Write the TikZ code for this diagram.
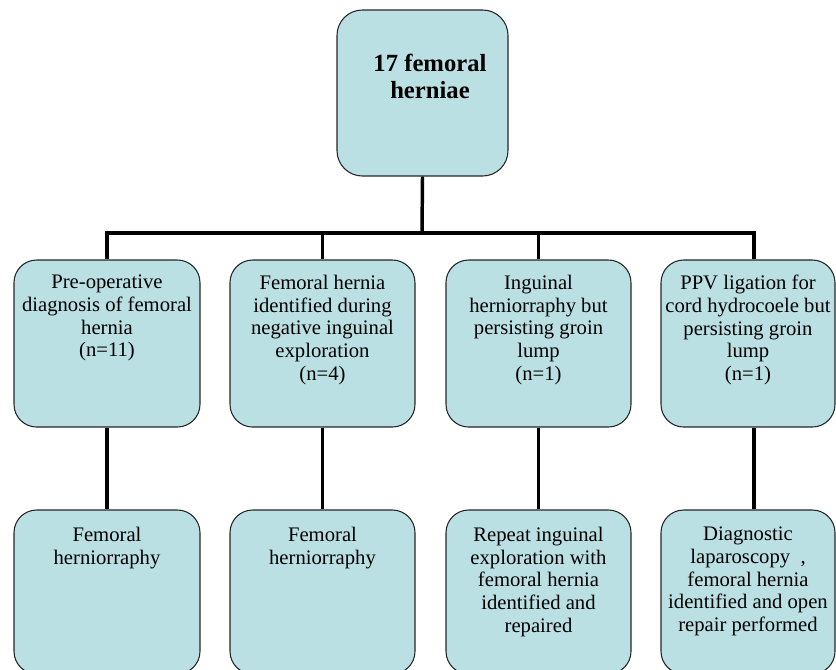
\documentclass[tikz,border=0pt]{standalone}
\usepackage{fontspec}
\setmainfont{Liberation Serif}
\begin{document}
\begin{tikzpicture}[x=0.75pt,y=-0.75pt,
  boxst/.style={draw=black!85,line width=0.8pt,fill=boxblue,rounded corners=17pt,inner sep=0pt},
  txt/.style={align=center,inner sep=0pt,anchor=north,font=\fontsize{15.5}{17}\selectfont},
  ttl/.style={align=center,inner sep=0pt,anchor=north,font=\fontsize{18.5}{20}\selectfont\bfseries},
  conn/.style={line width=2.6pt,line join=miter}]
\definecolor{boxblue}{RGB}{186,224,228}
\useasboundingbox (0,0) rectangle (836,669);
\clip (0,0) rectangle (836,669);
\coordinate (busL) at (107,233);
\coordinate (busM) at (422,233);
\coordinate (busR) at (754,233);
\node[boxst,rounded corners=19pt,minimum width=128.25pt,minimum height=124.5pt] (top) at (422.5,93) {};
\node[boxst,minimum width=139.5pt,minimum height=125.25pt] (m1) at (107,343.5) {};
\node[boxst,minimum width=138.75pt,minimum height=125.25pt] (m2) at (322.5,343.5) {};
\node[boxst,minimum width=138.75pt,minimum height=125.25pt] (m3) at (538.5,343.5) {};
\node[boxst,minimum width=130.5pt,minimum height=125.25pt] (m4) at (748,343.5) {};
\node[boxst,minimum width=139.5pt,minimum height=123pt] (b1) at (107,592) {};
\node[boxst,minimum width=138.75pt,minimum height=123pt] (b2) at (322.5,592) {};
\node[boxst,minimum width=138.75pt,minimum height=123pt] (b3) at (538.5,592) {};
\node[boxst,minimum width=130.5pt,minimum height=123pt] (b4) at (748,592) {};
\draw[conn] (top.south) -- (busM);
\draw[conn] (m1.north) -- (busL) -- (busR) -- (busR |- m4.north);
\draw[conn] (busL -| m2.north) -- (m2.north);
\draw[conn] (busL -| m3.north) -- (m3.north);
\draw[conn] (m1.south) -- (b1.north);
\draw[conn] (m2.south) -- (b2.north);
\draw[conn] (m3.south) -- (b3.north);
\draw[conn] (busR |- m4.south) -- (busR |- b4.north);
\node[ttl] (ttop) at (430,54) {17 femoral\\herniae};
\node[txt] (tm1) at (107,275) {Pre-operative\\diagnosis of femoral\\hernia\\(n=11)};
\node[txt] (tm2) at (322.5,275) {Femoral hernia\\identified during\\negative inguinal\\exploration\\(n=4)};
\node[txt] (tm3) at (538.5,275) {Inguinal\\herniorraphy but\\persisting groin\\lump\\(n=1)};
\node[txt] (tm4) at (748,275) {PPV ligation for\\cord hydrocoele but\\persisting groin\\lump\\(n=1)};
\node[txt] (tb1) at (107,527) {Femoral\\herniorraphy};
\node[txt] (tb2) at (322.5,527) {Femoral\\herniorraphy};
\node[txt] (tb3) at (538.5,527) {Repeat inguinal\\exploration with\\femoral hernia\\identified and\\repaired};
\node[txt] (tb4) at (748,527) {Diagnostic\\laparoscopy\ \ ,\\femoral hernia\\identified and open\\repair performed};
\end{tikzpicture}
\end{document}
